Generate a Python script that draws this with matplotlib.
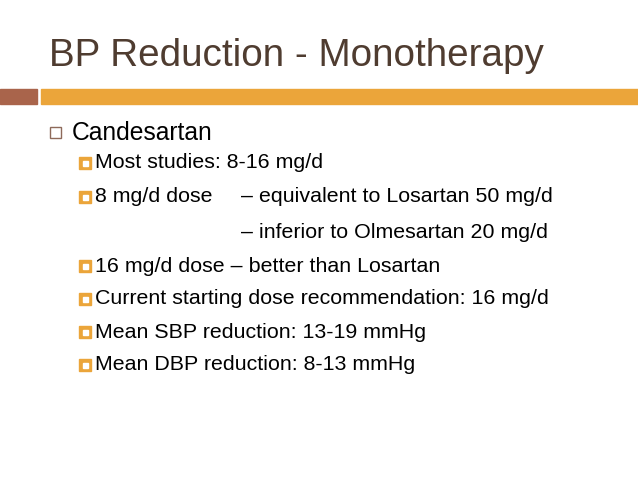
import matplotlib
matplotlib.use("Agg")
import matplotlib.pyplot as plt
from matplotlib.patches import Rectangle

title = "BP Reduction - Monotherapy"
main_item = "Candesartan"
sub_items = [
    ("Most studies: 8-16 mg/d", True, None),
    ("8 mg/d dose", True, "– equivalent to Losartan 50 mg/d"),
    ("", False, "– inferior to Olmesartan 20 mg/d"),
    ("16 mg/d dose – better than Losartan", True, None),
    ("Current starting dose recommendation: 16 mg/d", True, None),
    ("Mean SBP reduction: 13-19 mmHg", True, None),
    ("Mean DBP reduction: 8-13 mmHg", True, None),
]
sub_y = [163, 197, 232, 266, 299, 332, 365]

fig = plt.figure(figsize=(6.38, 4.79), dpi=100)
ax = fig.add_axes([0, 0, 1, 1])
ax.set_xlim(0, 638); ax.set_ylim(479, 0); ax.axis("off")
font = "Liberation Sans"
ax.text(49, 56, title, fontsize=27.8, color="#4F3C30", va="center", family=font)
ax.add_patch(Rectangle((0, 89), 37, 15, color="#A9644B"))
ax.add_patch(Rectangle((41, 89), 597, 15, color="#EBA53A"))
ax.add_patch(Rectangle((50, 127), 11, 11, fill=False, ec="#8E6A5A", lw=1))
ax.text(72, 133, main_item, fontsize=17.7, va="center", family=font)
for (t, b, t2), y in zip(sub_items, sub_y):
    if b:
        ax.add_patch(Rectangle((79, y - 6), 12, 12, color="#EBA53A"))
        ax.add_patch(Rectangle((82.5, y - 2.5), 5, 5, color="white"))
    ax.text(95, y, t, fontsize=15.4, va="center", family=font)
    if t2:
        ax.text(241, y, t2, fontsize=15.4, va="center", family=font)
fig.savefig("out.png", dpi=100)
